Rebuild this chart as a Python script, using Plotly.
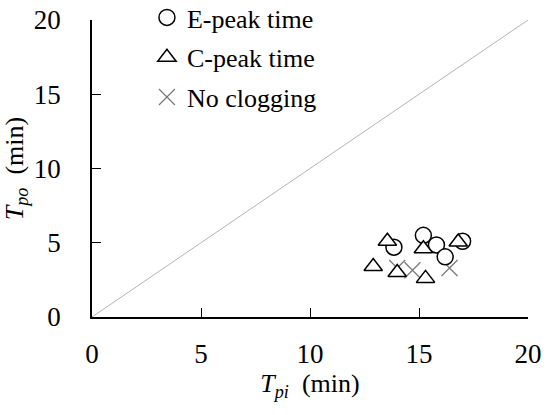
import plotly.graph_objects as go

# E-peak time (circles)
e_peak_x = [13.85, 15.2, 15.8, 16.2, 17.0]
e_peak_y = [4.7, 5.5, 4.85, 4.05, 5.1]

# C-peak time (triangles)
c_peak_x = [13.55, 15.2, 16.8, 12.9, 14.0, 15.3]
c_peak_y = [5.1, 4.6, 5.05, 3.4, 3.0, 2.6]

# No clogging (crosses)
no_clog_x = [14.0, 14.7, 16.4]
no_clog_y = [3.3, 3.15, 3.3]

line_x = [0, 20]
line_y = [0, 20]

FONT = "'Liberation Serif', 'DejaVu Serif', serif"

fig = go.Figure()
fig.add_trace(
    go.Scatter(
        x=line_x, y=line_y, mode="lines",
        line=dict(color="#b4b4b4", width=1),
        showlegend=False, hoverinfo="skip",
    )
)
fig.add_trace(
    go.Scatter(
        x=no_clog_x, y=no_clog_y, mode="markers", name="No clogging",
        legendgroup="c", legendrank=3,
        marker=dict(symbol="x-thin-open", size=16, color="#777777",
                    line=dict(color="#777777", width=1.2)),
    )
)
fig.add_trace(
    go.Scatter(
        x=e_peak_x, y=e_peak_y, mode="markers", name="E-peak time",
        legendgroup="a", legendrank=1,
        marker=dict(symbol="circle", size=16, color="white",
                    line=dict(color="black", width=1.5)),
    )
)
fig.add_trace(
    go.Scatter(
        x=c_peak_x, y=c_peak_y, mode="markers", name="C-peak time",
        legendgroup="b", legendrank=2,
        marker=dict(symbol="triangle-up", size=16, color="white",
                    line=dict(color="black", width=1.5)),
    )
)

axis_common = dict(
    range=[0, 20], tickvals=[0, 5, 10, 15, 20],
    showgrid=False, zeroline=False,
    showline=True, linecolor="black", linewidth=1.5,
    ticks="inside", ticklen=9, tickwidth=1.2, tickcolor="black",
    tickfont=dict(family=FONT, size=27, color="black"),
)

fig.update_layout(
    width=550, height=415,
    margin=dict(l=92, r=22, t=20, b=98, autoexpand=False),
    plot_bgcolor="white", paper_bgcolor="white",
    font=dict(family=FONT, color="black"),
    xaxis=dict(
        **axis_common,
        ticklabelstandoff=12,
        title=dict(text="<i>T</i><sub><i>pi</i></sub>  (min)",
                   font=dict(family=FONT, size=26), standoff=2),
    ),
    yaxis=dict(
        **axis_common,
        ticklabelstandoff=24,
        title=dict(text="<i>T</i><sub><i>po</i></sub>  (min)",
                   font=dict(family=FONT, size=26), standoff=8),
    ),
    legend=dict(
        x=0.126, y=1.0 + 26 / 297, xanchor="left", yanchor="top",
        bgcolor="rgba(0,0,0,0)", traceorder="grouped", tracegroupgap=3,
        font=dict(family=FONT, size=26, color="black"),
        itemwidth=30,
    ),
)

# the page body has a default 8px margin; drop it so the figure fills the window
fig.write_html(
    "out.html",
    config={"displayModeBar": False},
    post_script="document.body.style.margin='0';",
)
